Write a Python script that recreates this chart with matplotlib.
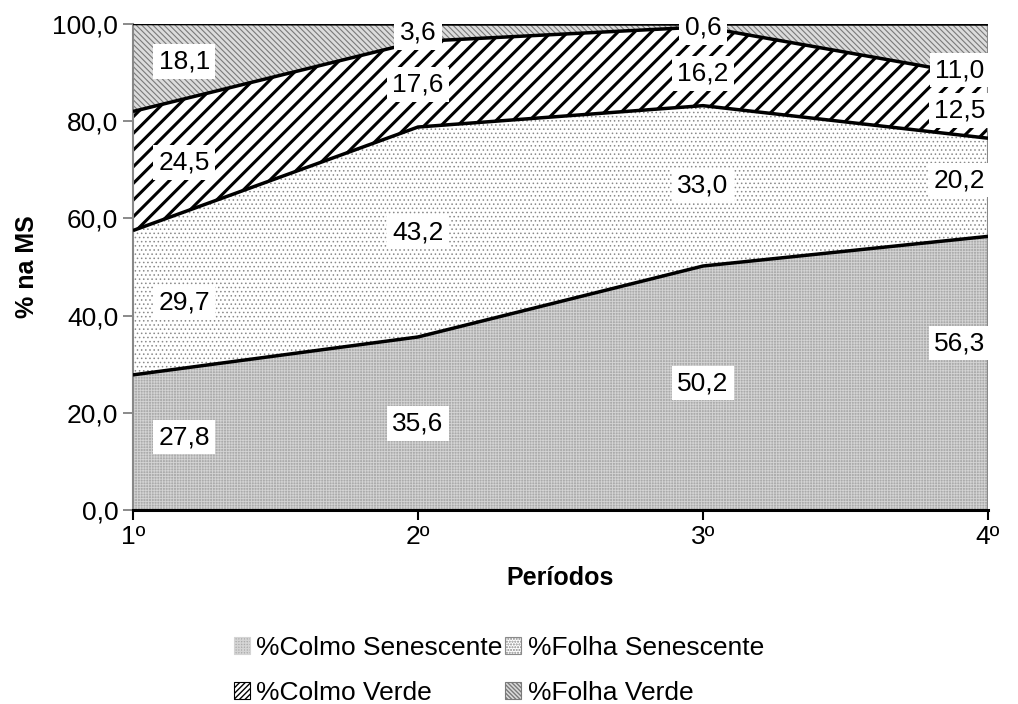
import matplotlib
matplotlib.use("Agg")
import matplotlib.pyplot as plt
from matplotlib.patches import Patch
import numpy as np

plt.rcParams['font.family'] = ['Liberation Sans', 'DejaVu Sans']

# data
periodos = ['1º', '2º', '3º', '4º']
colmo_senescente = [27.8, 35.6, 50.2, 56.3]
folha_senescente = [29.7, 43.2, 33.0, 20.2]
colmo_verde = [24.5, 17.6, 16.2, 12.5]
folha_verde = [18.1, 3.6, 0.6, 11.0]

series = [
    ('%Colmo Senescente', colmo_senescente),
    ('%Folha Senescente', folha_senescente),
    ('%Colmo Verde', colmo_verde),
    ('%Folha Verde', folha_verde),
]

# fill styles: facecolor, hatch, hatch colour, hatch linewidth, legend hatch
styles = [
    ('#ababab', '++++++', '#d4d4d4', 0.6, '++++++'),
    ('#ffffff', '....', '#8a8a8a', 0.6, '......'),
    ('#ffffff', '//', '#000000', 2.2, '//////'),
    ('#dcdcdc', '\\\\\\\\\\\\', '#7a7a7a', 0.8, '\\\\\\\\\\\\\\\\'),
]

x = np.arange(len(periodos))

fig = plt.figure(figsize=(10.18, 7.04), dpi=100)
ax = fig.add_axes([0.1306, 0.2756, 0.8399, 0.6903])

bottom = np.zeros(len(x))
handles = []
mids = []
for (name, vals), (fc, hatch, hc, hlw, lhatch) in zip(series, styles):
    vals = np.array(vals)
    top = bottom + vals
    with plt.rc_context({'hatch.linewidth': hlw, 'hatch.color': hc}):
        ax.fill_between(x, bottom, top, facecolor=fc, hatch=hatch,
                        edgecolor=hc, linewidth=0, label=name, zorder=1)
    with plt.rc_context({'hatch.linewidth': min(hlw, 1.0)}):
        handles.append(Patch(facecolor=fc, hatch=lhatch, edgecolor=hc if hc != '#000000' else '#000000',
                             linewidth=0.8, label=name))
    ax.plot(x, top, color='black', lw=2.5, zorder=3, solid_capstyle='butt')
    mids.append(bottom + vals / 2)
    bottom = top

# grey right edge of the area
ax.axvline(x[-1], color='#888888', lw=1.5, zorder=2)

# data labels (white boxes)
label_dx = [0.18, 0.0, 0.0, -0.1]
label_dy = {  # small shifts where Excel moved the labels
    (0, 3): 1.2, (0, 2): 1.8, (0, 0): 1.1,
    (3, 0): 6.2, (3, 1): 1.5, (3, 2): -0.5, (3, 3): -4.0,
    (2, 0): 1.0, (2, 2): -1.5, (2, 3): -0.5,
}
for si, (name, vals) in enumerate(series):
    for pi in range(len(x)):
        ypos = mids[si][pi] + label_dy.get((pi, si), 0)
        ax.text(x[pi] + label_dx[pi], ypos, f'{vals[pi]:.1f}'.replace('.', ','),
                ha='center', va='center', fontsize=19, zorder=5,
                bbox=dict(boxstyle='square,pad=0.2', fc='white', ec='none'))

ax.set_xlim(0, 3)
ax.set_ylim(0, 100)
ax.set_xticks(x)
ax.set_xticklabels(periodos, fontsize=19)
yt = np.arange(0, 101, 20)
ax.set_yticks(yt)
ax.set_yticklabels([f'{v:.1f}'.replace('.', ',') for v in yt], fontsize=19)
ax.tick_params(axis='both', direction='out', length=7, width=1.2, colors='#777777', labelcolor='black')
ax.tick_params(axis='x', colors='black', labelcolor='black', width=1.5, pad=4)

for s in ['top', 'right']:
    ax.spines[s].set_visible(False)
ax.spines['left'].set_color('#888888')
ax.spines['left'].set_linewidth(1.5)
ax.spines['bottom'].set_color('black')
ax.spines['bottom'].set_linewidth(2.2)
ax.spines['bottom'].set_zorder(4)

ax.set_ylabel('% na MS', fontsize=18, fontweight='bold', labelpad=10)
ax.set_xlabel('Períodos', fontsize=18, fontweight='bold', labelpad=12)

order = [0, 2, 1, 3]
fig.legend([handles[i] for i in order], [series[i][0] for i in order],
           loc='center', bbox_to_anchor=(0.49, 0.048), ncol=2, frameon=False,
           fontsize=19, handlelength=0.6, handleheight=0.6, handletextpad=0.25,
           columnspacing=0.1, labelspacing=0.8)

plt.savefig('out.png', dpi=100)
plt.close()
